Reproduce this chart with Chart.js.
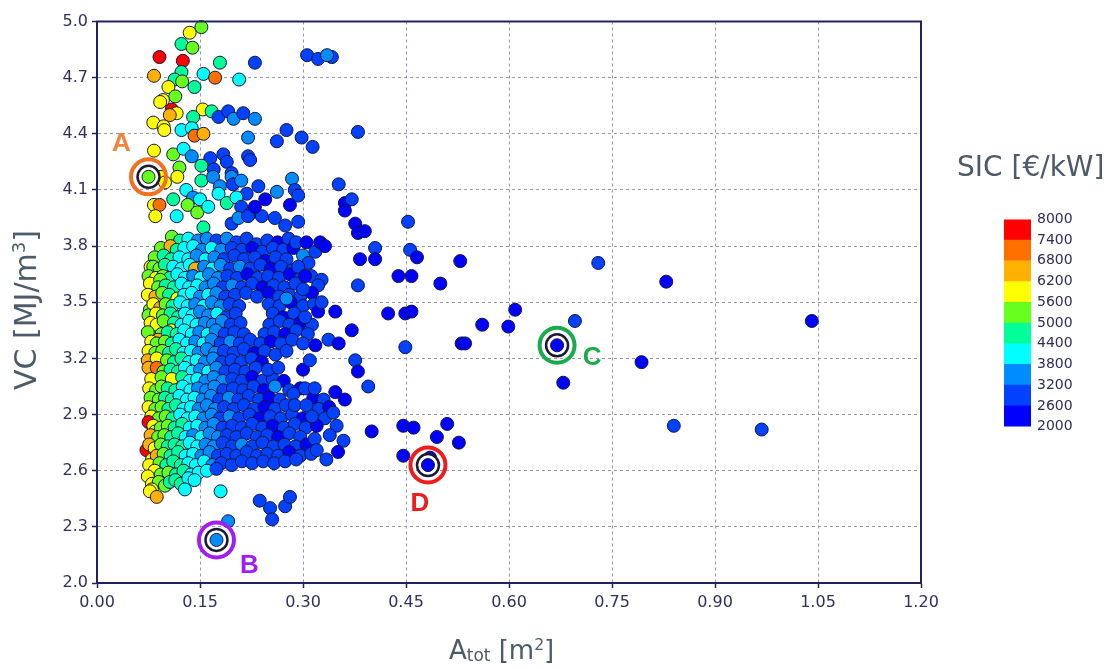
<!DOCTYPE html>
<html>
<head>
<meta charset="utf-8">
<script src="https://cdn.jsdelivr.net/npm/chart.js@4.4.1/dist/chart.umd.min.js"></script>
<style>
  html, body { margin: 0; padding: 0; background: #fff; }
  #wrap { position: relative; width: 1114px; height: 669px; overflow: hidden; font-family: "DejaVu Sans", sans-serif; }
  #plot { position: absolute; left: 0; top: 0; }
  #bar { position: absolute; left: 1004px; top: 205px; }
  .ttl { position: absolute; white-space: nowrap; color: #4d5a68; }
  sup { font-size: 0.6em; vertical-align: 0.6em; line-height: 0; }
  sub { font-size: 0.65em; vertical-align: -0.12em; line-height: 0; }
</style>
</head>
<body>
<div id="wrap">
  <canvas id="plot" width="1114" height="669"></canvas>
  <canvas id="bar" width="110" height="236"></canvas>
  <div class="ttl" id="ytitle" style="left:11px; top:390px; font-size:30px; line-height:30px; transform:rotate(-90deg); transform-origin:0 0;">VC [MJ/m<sup>3</sup>]</div>
  <div class="ttl" id="xtitle" style="left:449px; top:637px; font-size:26px; line-height:26px;">A<sub>tot</sub> [m<sup>2</sup>]</div>
  <div class="ttl" id="btitle" style="left:957px; top:153px; font-size:28px; line-height:28px;">SIC [€/kW]</div>
</div>
<script>
// colour scale of the SIC bar
const sicTicks = [2000, 2600, 3200, 3800, 4400, 5000, 5600, 6200, 6800, 7400, 8000];
const sicPalette = ['#0000ff', '#0042ff', '#008cff', '#00ffff', '#00ff99', '#66ff1e', '#ffff00', '#ffb000', '#ff7000', '#ff0000'];

// axis ticks
const xTicks = [0, 0.15, 0.3, 0.45, 0.6, 0.75, 0.9, 1.05, 1.2];
const yTicks = [2.0, 2.3, 2.6, 2.9, 3.2, 3.5, 3.8, 4.1, 4.4, 4.7, 5.0];

// [A_tot, VC, SIC]
const upperLeft = [
  [0.152,4.97,5300],[0.135,4.94,5900],[0.123,4.88,4700],[0.139,4.86,5300],
  [0.091,4.81,7700],[0.125,4.79,7700],[0.179,4.78,4700],[0.23,4.78,2700],
  [0.083,4.71,6500],[0.123,4.73,4700],[0.113,4.69,4700],[0.124,4.68,5300],[0.142,4.65,4700],[0.155,4.72,4100],[0.172,4.70,7100],[0.207,4.69,4100],
  [0.104,4.65,5900],[0.114,4.60,5300],[0.109,4.53,7700],[0.096,4.58,5900],[0.092,4.57,5900],[0.116,4.51,5900],[0.106,4.50,6500],
  [0.154,4.53,5900],[0.167,4.52,4700],[0.14,4.49,4700],[0.177,4.49,2900],[0.191,4.52,2900],[0.199,4.48,3500],[0.213,4.51,2900],[0.23,4.48,3500],
  [0.082,4.46,5900],[0.097,4.44,5900],[0.098,4.42,5900],[0.123,4.42,4100],[0.138,4.43,4100],[0.142,4.39,7100],[0.155,4.40,6500],
  [0.22,4.38,3500],[0.262,4.36,2900],[0.276,4.42,2900],
  [0.083,4.31,5900],[0.111,4.29,5300],[0.126,4.32,4100],[0.138,4.28,3500],[0.165,4.27,2900],[0.184,4.29,2900],[0.189,4.25,2900],
  [0.22,4.28,2900],[0.223,4.26,2900],[0.152,4.23,4700],[0.12,4.22,5300],[0.196,4.19,2900],[0.17,4.21,2900],
  [0.092,4.17,5900],[0.099,4.14,5900],[0.117,4.17,5900],[0.152,4.15,4700],[0.169,4.17,3500],[0.179,4.12,3500],[0.196,4.17,3500],
  [0.198,4.13,2900],[0.218,4.08,2900],[0.13,4.10,4100],[0.14,4.06,3500],[0.15,4.05,4100],[0.111,4.05,4700],[0.132,4.02,5300],
  [0.146,3.98,5300],[0.162,4.01,4100],[0.177,4.08,4100],[0.189,4.03,4700],[0.203,4.06,4100],[0.21,4.01,2900],[0.225,3.98,2900],
  [0.196,3.92,2900],[0.206,3.95,3500],[0.22,3.96,2900],[0.116,3.96,4100],[0.083,4.02,5900],[0.091,4.02,7100],[0.085,3.96,5900],[0.155,3.90,4700],
  [0.262,4.09,3500],[0.284,4.16,3500],[0.288,4.10,2900],[0.293,4.07,2900],[0.281,4.02,2300],[0.259,3.95,2900],[0.274,3.91,2900],
  [0.293,3.93,2900],[0.235,4.12,2900],[0.245,4.05,2300],[0.24,3.96,2900],[0.21,4.15,3500],[0.23,4.01,2300]
];

const coreUpper = [
  [0.109,3.85,5300],[0.121,3.83,4700],[0.133,3.84,4100],[0.147,3.83,3500],[0.16,3.84,3500],[0.174,3.83,2900],[0.189,3.84,3500],[0.203,3.82,2900],
  [0.218,3.84,2900],[0.232,3.81,2900],[0.248,3.83,2900],[0.263,3.82,2300],[0.279,3.84,2900],
  [0.093,3.79,5300],[0.107,3.80,6500],[0.116,3.78,4700],[0.127,3.79,4100],[0.14,3.80,4100],[0.153,3.78,3500],[0.167,3.79,4100],[0.181,3.78,3500],
  [0.196,3.79,2900],[0.211,3.78,2900],[0.226,3.79,2300],[0.241,3.77,2900],[0.256,3.79,2900],[0.271,3.78,2900],[0.286,3.79,2300],[0.318,3.77,2900],
  [0.084,3.74,5300],[0.097,3.75,4700],[0.108,3.73,4700],[0.12,3.74,4100],[0.133,3.73,4100],[0.145,3.75,3500],[0.158,3.73,4100],[0.171,3.74,3500],
  [0.185,3.73,2900],[0.2,3.75,2900],[0.214,3.73,2900],[0.23,3.74,2900],[0.245,3.72,2300],[0.26,3.74,2900],[0.276,3.73,2900],
  [0.078,3.69,5900],[0.082,3.69,5300],[0.091,3.68,5300],[0.099,3.70,4700],[0.111,3.69,4100],[0.123,3.68,4100],[0.135,3.70,4100],[0.143,3.68,6500],
  [0.156,3.69,3500],[0.168,3.68,4100],[0.18,3.70,3500],[0.194,3.68,2900],[0.208,3.69,3500],[0.223,3.68,2900],[0.238,3.70,2900],[0.253,3.68,2300],
  [0.268,3.69,2900],[0.284,3.67,2900],
  [0.075,3.64,5300],[0.086,3.63,5900],[0.096,3.64,5300],[0.106,3.63,4700],[0.117,3.65,4100],[0.128,3.63,4100],[0.14,3.64,3500],[0.151,3.63,4100],
  [0.163,3.65,3500],[0.176,3.63,3500],[0.19,3.64,2900],[0.204,3.63,2900],[0.219,3.65,2300],[0.234,3.63,2900],[0.249,3.64,2900],[0.265,3.63,2900],
  [0.281,3.65,2300],[0.297,3.63,2900],[0.312,3.64,2900],[0.327,3.62,2900],
  [0.077,3.60,5900],[0.092,3.62,5300],[0.089,3.58,5300],[0.1,3.59,4700],[0.112,3.58,4700],[0.123,3.60,4100],[0.134,3.58,4100],[0.146,3.59,4100],
  [0.158,3.58,3500],[0.17,3.60,3500],[0.183,3.58,2900],[0.197,3.59,3500],[0.211,3.58,2900],[0.226,3.60,2900],[0.241,3.58,2300],[0.257,3.59,2900],
  [0.273,3.58,2900],[0.289,3.60,2900],[0.322,3.59,2900],
  [0.074,3.54,5900],[0.085,3.53,6500],[0.095,3.55,5300],[0.105,3.54,4700],[0.117,3.52,5900],[0.127,3.54,4100],[0.138,3.55,4100],[0.15,3.53,3500],
  [0.162,3.54,4100],[0.174,3.55,3500],[0.187,3.53,2900],[0.201,3.54,2900],[0.217,3.55,2900],[0.233,3.53,2900],[0.25,3.55,2300],[0.265,3.53,2900],
  [0.28,3.54,2900],[0.296,3.53,2900],[0.313,3.55,2300],
  [0.077,3.46,5300],[0.082,3.49,5900],[0.092,3.47,6500],[0.1,3.49,5300],[0.11,3.48,4700],[0.121,3.50,4100],[0.132,3.48,4100],[0.143,3.49,3500],
  [0.155,3.48,4100],[0.167,3.50,3500],[0.18,3.48,3500],[0.193,3.49,2900],[0.207,3.48,2900],[0.25,3.49,2900],[0.266,3.48,2900],[0.282,3.50,2300],
  [0.3,3.48,2900],[0.316,3.49,2900],
  [0.075,3.43,5300],[0.086,3.44,5900],[0.096,3.43,5300],[0.107,3.44,4700],[0.118,3.42,4700],[0.128,3.44,4100],[0.139,3.43,4100],[0.15,3.45,3500],
  [0.162,3.43,3500],[0.175,3.44,4100],[0.188,3.42,2900],[0.202,3.44,2900],[0.256,3.44,2900],[0.271,3.42,2300],[0.287,3.44,2900],[0.322,3.45,2300],
  [0.078,3.39,5900],[0.087,3.38,5900],[0.097,3.40,5300],[0.112,3.39,4700],[0.108,3.35,5900],[0.123,3.38,4100],[0.134,3.40,4100],[0.145,3.38,4100],
  [0.157,3.39,3500],[0.169,3.38,3500],[0.182,3.40,3500],[0.195,3.38,2900],[0.209,3.39,2900],[0.251,3.38,2900],[0.266,3.40,2900],[0.28,3.38,2900],
  [0.296,3.39,2300],[0.313,3.38,2900],
  [0.074,3.34,5300],[0.094,3.33,5300],[0.089,3.30,6500],[0.103,3.34,4700],[0.116,3.33,4700],[0.127,3.35,4100],[0.138,3.33,4100],[0.149,3.34,3500],
  [0.161,3.33,4100],[0.173,3.35,3500],[0.186,3.33,2900],[0.2,3.34,2900],[0.214,3.33,2900],[0.244,3.33,2900],[0.258,3.34,2900],[0.274,3.33,2300],
  [0.29,3.35,2900],[0.307,3.33,2900],
  [0.079,3.29,5900],[0.087,3.28,5300],[0.099,3.29,5300],[0.109,3.28,4700],[0.12,3.30,4100],[0.131,3.28,4100],[0.143,3.29,3500],[0.155,3.28,4100],
  [0.167,3.30,3500],[0.18,3.28,2900],[0.194,3.29,3500],[0.208,3.28,2900],[0.223,3.30,2900],[0.238,3.28,2900],[0.253,3.29,2300],[0.268,3.28,2900],
  [0.284,3.30,2900],[0.3,3.28,2900],[0.318,3.27,2300],
  [0.075,3.24,5900],[0.085,3.23,5300],[0.095,3.24,5300],[0.105,3.23,4700],[0.115,3.25,4700],[0.126,3.23,4100],[0.137,3.24,4100],[0.148,3.23,3500],
  [0.16,3.25,3500],[0.172,3.23,3500],[0.185,3.24,2900],[0.199,3.23,2900],[0.214,3.25,2900],[0.229,3.23,2300],[0.244,3.24,2900],[0.26,3.22,2900],
  [0.276,3.24,2900]
];

const coreLower = [
  [0.074,3.19,6500],[0.092,3.18,5300],[0.087,3.20,5900],[0.102,3.19,5300],[0.112,3.18,4700],[0.123,3.20,4700],[0.134,3.18,4100],[0.145,3.19,4100],
  [0.157,3.18,3500],[0.169,3.20,3500],[0.182,3.18,2900],[0.196,3.19,2900],[0.21,3.18,2900],[0.225,3.20,2900],[0.24,3.18,2300],
  [0.075,3.15,6500],[0.087,3.15,7100],[0.097,3.13,5300],[0.107,3.14,4700],[0.118,3.13,4700],[0.128,3.15,4100],[0.139,3.13,4100],[0.15,3.14,3500],
  [0.162,3.13,4100],[0.174,3.15,3500],[0.187,3.13,2900],[0.201,3.14,2900],[0.216,3.13,2900],[0.231,3.15,2900],[0.3,3.14,2300],
  [0.079,3.09,5900],[0.094,3.10,5300],[0.113,3.08,4700],[0.109,3.09,5900],[0.124,3.10,4700],[0.135,3.08,4100],[0.146,3.09,4100],[0.158,3.08,3500],
  [0.17,3.10,3500],[0.183,3.08,3500],[0.197,3.09,2900],[0.211,3.08,2900],[0.226,3.10,2300],[0.241,3.08,2900],[0.256,3.09,2900],[0.272,3.08,2300],
  [0.076,3.04,5900],[0.086,3.03,5300],[0.094,3.05,5300],[0.103,3.04,4700],[0.114,3.03,4700],[0.125,3.05,4100],[0.136,3.03,4100],[0.147,3.04,3500],
  [0.159,3.03,3500],[0.171,3.05,3500],[0.184,3.03,2900],[0.198,3.04,2900],[0.213,3.03,2900],[0.228,3.05,2900],[0.243,3.03,2300],[0.259,3.05,3500],
  [0.28,3.03,2900],[0.296,3.04,2300],
  [0.078,2.99,5300],[0.09,2.98,5300],[0.099,2.99,4700],[0.109,2.98,4700],[0.12,3.00,4100],[0.131,2.98,4100],[0.142,2.99,4100],[0.154,2.98,3500],
  [0.166,3.00,3500],[0.178,2.98,2900],[0.192,2.99,3500],[0.206,2.98,2900],[0.221,3.00,2900],[0.236,2.98,2900],[0.251,2.99,2300],[0.266,2.98,2900],
  [0.315,2.99,2300],[0.33,2.98,2900],
  [0.075,2.94,5900],[0.085,2.93,5300],[0.094,2.94,5300],[0.104,2.93,4700],[0.115,2.95,4700],[0.126,2.93,4100],[0.137,2.94,4100],[0.148,2.93,3500],
  [0.16,2.95,3500],[0.172,2.93,3500],[0.185,2.94,2900],[0.199,2.93,2900],[0.214,2.95,2900],[0.229,2.93,2900],[0.244,2.94,2300],[0.259,2.93,2900],
  [0.275,2.95,2900],[0.323,2.93,2900],[0.338,2.94,2300],
  [0.079,2.89,5900],[0.09,2.88,5300],[0.1,2.89,5300],[0.11,2.88,4700],[0.121,2.90,4100],[0.132,2.88,4100],[0.143,2.89,4100],[0.155,2.88,3500],
  [0.167,2.90,3500],[0.179,2.88,2900],[0.193,2.89,3500],[0.207,2.88,2900],[0.222,2.90,2900],[0.237,2.88,2300],[0.252,2.89,2900],[0.268,2.88,2900],
  [0.284,2.90,2900],[0.3,2.88,2300],[0.332,2.88,2900],
  [0.075,2.86,7700],[0.082,2.84,5900],[0.085,2.81,5900],[0.093,2.83,5300],[0.103,2.84,5300],[0.113,2.83,4700],[0.124,2.85,4700],[0.135,2.83,4100],
  [0.146,2.84,4100],[0.158,2.83,3500],[0.17,2.85,3500],[0.183,2.83,2900],[0.197,2.84,2900],[0.211,2.83,2900],[0.226,2.85,2900],[0.241,2.83,2900],
  [0.256,2.84,2300],[0.272,2.83,2900],[0.288,2.85,2900],[0.304,2.83,2900],[0.32,2.84,2300],
  [0.078,2.79,6500],[0.089,2.78,5300],[0.098,2.79,5300],[0.108,2.78,4700],[0.118,2.80,4700],[0.129,2.78,4100],[0.14,2.79,3500],[0.152,2.78,4100],
  [0.164,2.80,3500],[0.176,2.78,3500],[0.189,2.79,2900],[0.203,2.78,2900],[0.218,2.80,2900],[0.233,2.78,2900],[0.248,2.79,2900],[0.264,2.78,2300],
  [0.28,2.80,2900],[0.296,2.78,2900],
  [0.072,2.71,7700],[0.076,2.74,6500],[0.084,2.72,5900],[0.093,2.74,5300],[0.103,2.73,4700],[0.113,2.74,4700],[0.124,2.73,4700],[0.135,2.75,4100],
  [0.146,2.73,4100],[0.158,2.74,3500],[0.17,2.73,3500],[0.183,2.75,2900],[0.197,2.73,2900],[0.211,2.74,3500],[0.226,2.73,2900],[0.241,2.75,2900],
  [0.257,2.73,2900],[0.273,2.74,2900],[0.289,2.73,2900],[0.305,2.74,2300],
  [0.08,2.66,5900],[0.087,2.68,6500],[0.097,2.69,5300],[0.107,2.68,4700],[0.118,2.70,4700],[0.129,2.68,4100],[0.14,2.69,4100],[0.152,2.68,3500],
  [0.164,2.70,3500],[0.176,2.68,2900],[0.189,2.69,2900],[0.203,2.68,2900],[0.218,2.70,2900],[0.233,2.68,2900],[0.248,2.69,2900],[0.264,2.68,2900],
  [0.28,2.70,2300],[0.296,2.68,2900],[0.312,2.69,2900],
  [0.076,2.63,5900],[0.091,2.64,5300],[0.101,2.63,4700],[0.111,2.65,4700],[0.122,2.63,4700],[0.133,2.64,4100],[0.144,2.63,4100],[0.156,2.65,4100],
  [0.168,2.63,3500],[0.181,2.64,2900],[0.196,2.63,2900],[0.211,2.65,2900],[0.226,2.64,2900],[0.242,2.65,2900],[0.258,2.64,2900],[0.274,2.65,2900],
  [0.29,2.66,2900],
  [0.084,2.60,5900],[0.074,2.57,5900],[0.093,2.58,5300],[0.104,2.59,5300],[0.115,2.58,4700],[0.126,2.60,4700],[0.137,2.58,4100],[0.148,2.59,4100],
  [0.16,2.60,4100],[0.174,2.61,2900],
  [0.08,2.53,5900],[0.09,2.54,5300],[0.099,2.52,5300],[0.106,2.54,4700],[0.114,2.55,4700],[0.122,2.53,4700],[0.133,2.56,4100],[0.142,2.55,4100],
  [0.08,2.50,5900],[0.077,2.49,5900],[0.087,2.46,6500],[0.128,2.50,4100]
];

const blueSpread = [
  [0.306,4.82,2900],[0.322,4.80,2900],[0.342,4.81,2900],[0.335,4.82,3500],
  [0.298,4.38,2900],[0.314,4.33,2900],[0.38,4.41,2900],
  [0.352,4.13,2900],[0.361,4.03,2300],[0.371,4.05,2900],[0.361,3.99,2300],[0.376,3.92,2300],[0.38,3.87,2300],[0.39,3.88,2300],[0.453,3.93,2900],
  [0.29,3.82,2900],[0.305,3.82,2300],[0.325,3.82,2300],[0.332,3.80,2300],
  [0.405,3.79,2900],[0.383,3.73,2300],[0.405,3.73,2300],[0.456,3.78,2900],[0.466,3.74,2300],[0.529,3.72,2300],
  [0.30,3.75,3500],[0.308,3.71,2900],[0.293,3.69,2900],[0.303,3.64,2300],[0.439,3.64,2300],[0.458,3.64,2300],[0.50,3.60,2300],[0.38,3.59,2900],
  [0.30,3.57,2900],[0.276,3.52,3500],[0.327,3.50,2900],[0.347,3.45,2300],[0.303,3.42,2900],[0.424,3.44,2300],[0.449,3.44,2300],[0.458,3.45,2300],
  [0.337,3.30,2900],[0.352,3.28,2300],[0.371,3.35,2300],[0.449,3.26,2900],[0.31,3.19,2900],[0.376,3.19,2900],[0.38,3.13,2300],[0.395,3.05,2900],
  [0.347,3.02,2300],[0.361,2.98,2300],[0.249,3.14,2900],[0.264,3.15,2900],[0.286,3.01,2900],[0.303,3.04,2900],[0.317,3.04,2900],
  [0.288,2.95,2900],[0.305,2.95,2900],[0.313,2.89,2900],[0.344,2.91,2900],[0.349,2.84,2900],[0.40,2.81,2300],[0.446,2.84,2300],[0.461,2.83,2300],
  [0.317,2.77,2900],[0.339,2.79,2900],[0.359,2.76,2900],[0.32,2.71,2900],[0.334,2.66,2900],[0.351,2.70,2300],[0.446,2.68,2300],[0.485,2.67,2300],
  [0.495,2.78,2300],[0.51,2.85,2300],[0.527,2.75,2300],
  [0.561,3.38,2300],[0.599,3.37,2300],[0.609,3.46,2300],[0.696,3.40,2900],[0.531,3.28,2300],[0.536,3.28,2300],[0.679,3.07,2300]
];

const lowerStray = [
  [0.18,2.49,4100],[0.191,2.33,3500],[0.237,2.44,2900],[0.252,2.40,2900],[0.255,2.34,2900],[0.274,2.41,2900],[0.281,2.46,2900]
];

const farRight = [
  [1.041,3.40,2300],[0.829,3.61,2300],[0.73,3.71,2900],[0.793,3.18,2300],[0.84,2.84,2900],[0.968,2.82,2900]
];

// highlighted designs: [label, A_tot, VC, SIC]
const marked = [['A',0.075,4.17,5300],['B',0.174,2.23,3500],['C',0.67,3.27,2300],['D',0.482,2.63,2300]];
const ringColors = {A: '#f37022', B: '#a01ff0', C: '#19aa4c', D: '#ee1c1c'};
const labelColors = {A: '#f08540', B: '#a01ff0', C: '#19aa4c', D: '#ee1c1c'};
const labelOffsets = {A: [-27, -33], B: [33, 26], C: [35, 13], D: [-8, 39]};

function sicColor(v) {
  for (let i = 0; i < sicPalette.length; i++) {
    if (v < sicTicks[i + 1]) return sicPalette[i];
  }
  return sicPalette[sicPalette.length - 1];
}

function pointSet(rows) {
  return {
    data: rows.map(r => ({x: r[0], y: r[1]})),
    backgroundColor: rows.map(r => sicColor(r[2])),
    borderColor: '#15153f',
    borderWidth: 1,
    pointRadius: 6.5,
    pointHoverRadius: 6.5
  };
}

const markPts = marked.map(m => [m[1], m[2], m[3]]);
const halo = {
  data: marked.map(m => ({x: m[1], y: m[2]})),
  backgroundColor: '#ffffff', borderColor: '#1a1a32', borderWidth: 2.5, pointRadius: 11
};
const rings = {
  data: marked.map(m => ({x: m[1], y: m[2]})),
  backgroundColor: 'rgba(0,0,0,0)', borderColor: marked.map(m => ringColors[m[0]]), borderWidth: 4, pointRadius: 17.5
};

// bottom to top
const layers = [pointSet(upperLeft), pointSet(coreUpper), pointSet(coreLower), pointSet(blueSpread),
  pointSet(lowerStray), pointSet(farRight), halo, pointSet(markPts), rings];
layers.forEach((d, i) => { d.order = layers.length - i; d.clip = false; });

const framePlugin = {
  id: 'frame',
  afterDatasetsDraw(chart) {
    const {ctx, chartArea: a, scales} = chart;
    ctx.save();
    ctx.strokeStyle = '#22225e';
    ctx.lineWidth = 2;
    ctx.strokeRect(a.left, a.top, a.right - a.left, a.bottom - a.top);
    ctx.font = 'bold 26px "Liberation Sans", Arial, sans-serif';
    ctx.textAlign = 'center';
    ctx.textBaseline = 'middle';
    marked.forEach(m => {
      const px = scales.x.getPixelForValue(m[1]);
      const py = scales.y.getPixelForValue(m[2]);
      const off = labelOffsets[m[0]];
      ctx.fillStyle = labelColors[m[0]];
      ctx.fillText(m[0], px + off[0], py + off[1]);
    });
    ctx.restore();
  }
};

const tickFont = {family: '"DejaVu Sans", sans-serif', size: 16};
const tickColor = '#30305c';

new Chart(document.getElementById('plot'), {
  type: 'scatter',
  data: {datasets: layers},
  options: {
    responsive: false,
    animation: false,
    events: [],
    layout: {padding: {top: 16, right: 193, left: 0, bottom: 0}},
    plugins: {legend: {display: false}, tooltip: {enabled: false}},
    scales: {
      x: {
        type: 'linear', min: 0, max: 1.2,
        afterBuildTicks: s => { s.ticks = xTicks.map(v => ({value: v})); },
        afterFit: s => { s.height = 86; },
        ticks: {callback: v => v.toFixed(2), font: tickFont, color: tickColor, padding: 5, autoSkip: false, maxRotation: 0},
        grid: {color: '#9696bc', lineWidth: 1, tickLength: 5, tickColor: '#22225e', tickWidth: 1.5},
        border: {color: '#22225e', width: 2, dash: [3, 3]}
      },
      y: {
        type: 'linear', min: 2, max: 5,
        afterBuildTicks: s => { s.ticks = yTicks.map(v => ({value: v})); },
        afterFit: s => { s.width = 97; },
        ticks: {callback: v => v.toFixed(1), font: tickFont, color: tickColor, padding: 4, autoSkip: false},
        grid: {color: '#9696bc', lineWidth: 1, tickLength: 5, tickColor: '#22225e', tickWidth: 1.5},
        border: {color: '#22225e', width: 2, dash: [3, 3]}
      }
    }
  },
  plugins: [framePlugin]
});

// colour bar
const barSets = sicPalette.map((c, i) => ({
  data: [[sicTicks[i], sicTicks[i + 1]]],
  backgroundColor: c,
  grouped: false,
  barPercentage: 1,
  categoryPercentage: 1
}));

new Chart(document.getElementById('bar'), {
  type: 'bar',
  data: {labels: ['SIC'], datasets: barSets},
  options: {
    responsive: false,
    animation: false,
    events: [],
    layout: {padding: {top: 10, bottom: 10, left: 0, right: 0}},
    plugins: {legend: {display: false}, tooltip: {enabled: false}},
    scales: {
      x: {display: false},
      y: {
        position: 'right', min: 2000, max: 8000,
        afterBuildTicks: s => { s.ticks = sicTicks.map(v => ({value: v})); },
        afterFit: s => { s.width = 83; },
        ticks: {callback: v => String(v), font: {family: '"DejaVu Sans", sans-serif', size: 14}, color: '#2e2e5a', padding: 6, autoSkip: false},
        grid: {display: false, drawTicks: false},
        border: {display: false}
      }
    }
  }
});
</script>
</body>
</html>
